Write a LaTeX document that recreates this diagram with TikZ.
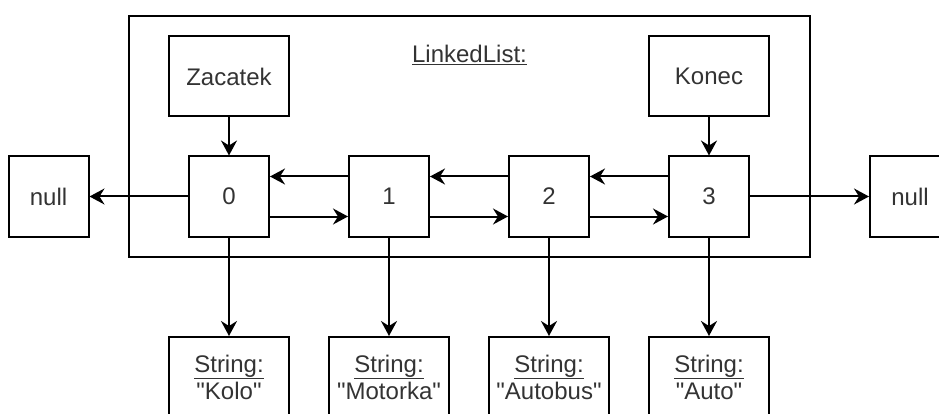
\documentclass[tikz,border=0pt]{standalone}
\usepackage{fontspec}
\setmainfont{Liberation Sans}[Ligatures=TeXOff]
\usetikzlibrary{arrows.meta}
\definecolor{txt}{HTML}{333333}
\tikzset{
  line/.style={line width=2pt, draw=black},
  box/.style={line, rectangle, minimum width=80pt, minimum height=80pt,
    inner sep=0pt, text=txt, font=\fontsize{24}{27}\selectfont, align=center},
  widebox/.style={box, minimum width=120pt},
  link/.style={line, -{Stealth[length=15pt, width=16pt, inset=5pt]}}
}
\begin{document}
\begin{tikzpicture}[x=1pt, y=-1pt]
  \useasboundingbox (0,0) rectangle (939,414);
  \clip (0,0) rectangle (939,414);

  % container of the list
  \node[line, rectangle, inner sep=0pt, minimum width=681pt, minimum height=241pt] (list) at (469.5,136.5) {};
  \node[text=txt, font=\fontsize{24}{27}\selectfont] (title) at (469.5,55) {\underline{LinkedList:}};

  % head and tail references
  \node[widebox] (head) at (229,76.5) {Zacatek};
  \node[widebox] (tail) at (709,76.5) {Konec};

  % list elements
  \node[box] (n0) at (229,196.5) {0};
  \node[box] (n1) at (389,196.5) {1};
  \node[box] (n2) at (549,196.5) {2};
  \node[box] (n3) at (709,196.5) {3};

  % null ends
  \node[box] (nl) at (48.5,196.5) {null};
  \node[box] (nr) at (910,196.5) {null};

  % stored values
  \node[widebox] (s0) at (229,377) {\underline{String:}\\"Kolo"};
  \node[widebox] (s1) at (389,377) {\underline{String:}\\"Motorka"};
  \node[widebox] (s2) at (549,377) {\underline{String:}\\"Autobus"};
  \node[widebox] (s3) at (709,377) {\underline{String:}\\"Auto"};

  % head / tail pointers
  \draw[link] (head) -- (n0);
  \draw[link] (tail) -- (n3);

  % next pointers (lower) and previous pointers (upper)
  \foreach \a/\b in {n0/n1, n1/n2, n2/n3} {
    \draw[link] ([yshift=-20pt]\a.east) -- ([yshift=-20pt]\b.west);
    \draw[link] ([yshift=20pt]\b.west) -- ([yshift=20pt]\a.east);
  }

  % ends of the chain
  \draw[link] (n0) -- (nl);
  \draw[link] (n3) -- (nr);

  % values
  \foreach \k in {0,1,2,3} {
    \draw[link] (n\k) -- (s\k);
  }
\end{tikzpicture}
\end{document}
